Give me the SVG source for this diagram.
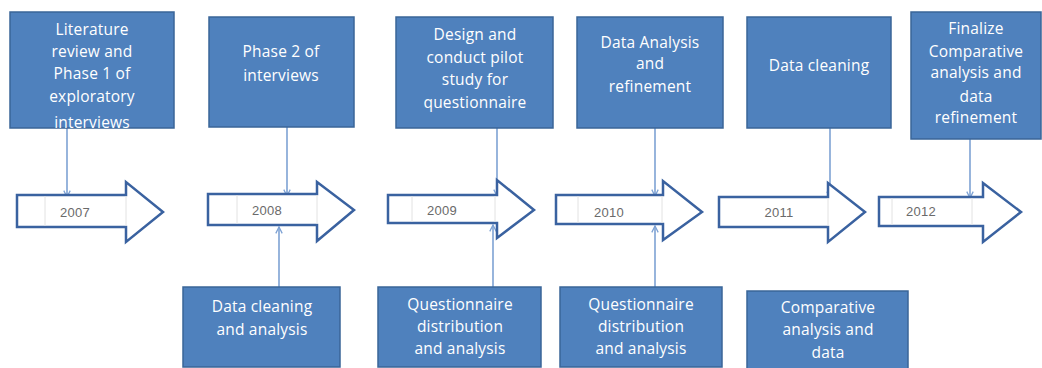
<svg xmlns="http://www.w3.org/2000/svg" width="1042" height="368" viewBox="0 0 1042 368">
<defs>
<style>
.box{fill:#4f81bd;stroke:#3a6598;stroke-width:1.5}
.lbl{font-family:"Open Sans","Liberation Sans",sans-serif;font-size:15.5px;fill:#ffffff;text-anchor:middle;letter-spacing:0.2px}
.arr{fill:#ffffff;stroke:#3a62a0;stroke-width:2.5;stroke-linejoin:miter}
.cell{stroke:#e2e2e2;stroke-width:1}
.yr{font-family:"Liberation Sans",sans-serif;font-size:13px;fill:#6a6a6a;text-anchor:middle;letter-spacing:0.3px}
.con{stroke:#7ea2d4;stroke-width:1.6;fill:none;marker-end:url(#ah)}
</style>
<marker id="ah" viewBox="0 0 10 10" refX="9" refY="5" markerWidth="8" markerHeight="8" markerUnits="userSpaceOnUse" orient="auto">
<path d="M1,1 L9,5 L1,9" fill="none" stroke="#7ea2d4" stroke-width="1.6"/>
</marker>
<clipPath id="c1"><rect x="10" y="12" width="164" height="116"/></clipPath>
<clipPath id="c10"><rect x="747" y="291" width="161" height="77"/></clipPath>
</defs>

<g id="connectors">
<line class="con" x1="67" y1="128" x2="67" y2="197"/>
<line class="con" x1="287" y1="127" x2="287" y2="196"/>
<line class="con" x1="497" y1="128" x2="497" y2="196"/>
<line class="con" x1="655" y1="128" x2="655" y2="196"/>
<line class="con" x1="830" y1="128" x2="830" y2="198"/>
<line class="con" x1="970" y1="139" x2="970" y2="198"/>
<line class="con" x1="279" y1="287" x2="279" y2="227"/>
<line class="con" x1="493" y1="287" x2="493" y2="225"/>
<line class="con" x1="655" y1="287" x2="655" y2="226"/>
</g>

<g id="y2007">
<path class="arr" d="M17,195 H126 V182 L163,212 L126,242 V227 H17 Z"/>
<line class="cell" x1="45" y1="196" x2="45" y2="226"/>
<line class="cell" x1="126" y1="196" x2="126" y2="226"/>
<text class="yr" x="75" y="217">2007</text>
</g>
<g id="y2008">
<path class="arr" d="M208,194 H317 V182 L354,210 L317,241 V225 H208 Z"/>
<line class="cell" x1="237" y1="195" x2="237" y2="224"/>
<line class="cell" x1="317" y1="195" x2="317" y2="224"/>
<text class="yr" x="267" y="215">2008</text>
</g>
<g id="y2009">
<path class="arr" d="M388,195 H497 V180 L534,210 L497,238 V223 H388 Z"/>
<line class="cell" x1="412" y1="196" x2="412" y2="222"/>
<line class="cell" x1="495" y1="196" x2="495" y2="222"/>
<text class="yr" x="442" y="215">2009</text>
</g>
<g id="y2010">
<path class="arr" d="M556,195 H663 V181 L702,212 L663,240 V224 H556 Z"/>
<line class="cell" x1="578" y1="196" x2="578" y2="223"/>
<line class="cell" x1="662" y1="196" x2="662" y2="223"/>
<text class="yr" x="609" y="217">2010</text>
</g>
<g id="y2011">
<path class="arr" d="M719,197 H828 V183 L865,212 L828,242 V227 H719 Z"/>
<line class="cell" x1="828" y1="198" x2="828" y2="226"/>
<text class="yr" x="779" y="217">2011</text>
</g>
<g id="y2012">
<path class="arr" d="M879,197 H983 V183 L1021,212 L983,242 V226 H879 Z"/>
<line class="cell" x1="892" y1="198" x2="892" y2="225"/>
<line class="cell" x1="972" y1="198" x2="972" y2="225"/>
<text class="yr" x="921" y="216">2012</text>
</g>

<g id="t1">
<rect class="box" x="10" y="12" width="164" height="116"/>
<g clip-path="url(#c1)">
<text class="lbl" x="92" y="35">Literature</text>
<text class="lbl" x="92" y="57">review and</text>
<text class="lbl" x="92" y="79">Phase 1 of</text>
<text class="lbl" x="92" y="102">exploratory</text>
<text class="lbl" x="92" y="128">interviews</text>
</g>
</g>
<g id="t2">
<rect class="box" x="209" y="17" width="145" height="110"/>
<text class="lbl" x="281" y="57">Phase 2 of</text>
<text class="lbl" x="281" y="81">interviews</text>
</g>
<g id="t3">
<rect class="box" x="396" y="17" width="157" height="111"/>
<text class="lbl" x="475" y="40">Design and</text>
<text class="lbl" x="475" y="63">conduct pilot</text>
<text class="lbl" x="475" y="85">study for</text>
<text class="lbl" x="475" y="108">questionnaire</text>
</g>
<g id="t4">
<rect class="box" x="577" y="17" width="146" height="111"/>
<text class="lbl" x="650" y="48">Data Analysis</text>
<text class="lbl" x="650" y="69">and</text>
<text class="lbl" x="650" y="92">refinement</text>
</g>
<g id="t5">
<rect class="box" x="747" y="17" width="144" height="111"/>
<text class="lbl" x="819" y="71">Data cleaning</text>
</g>
<g id="t6">
<rect class="box" x="911" y="12" width="130" height="127"/>
<text class="lbl" x="976" y="34">Finalize</text>
<text class="lbl" x="976" y="57">Comparative</text>
<text class="lbl" x="976" y="78">analysis and</text>
<text class="lbl" x="976" y="102">data</text>
<text class="lbl" x="976" y="123">refinement</text>
</g>

<g id="b1">
<rect class="box" x="183" y="287" width="157" height="80"/>
<text class="lbl" x="262" y="312">Data cleaning</text>
<text class="lbl" x="262" y="335">and analysis</text>
</g>
<g id="b2">
<rect class="box" x="378" y="287" width="163" height="80"/>
<text class="lbl" x="460" y="310">Questionnaire</text>
<text class="lbl" x="460" y="332">distribution</text>
<text class="lbl" x="460" y="354">and analysis</text>
</g>
<g id="b3">
<rect class="box" x="560" y="287" width="162" height="80"/>
<text class="lbl" x="641" y="310">Questionnaire</text>
<text class="lbl" x="641" y="332">distribution</text>
<text class="lbl" x="641" y="354">and analysis</text>
</g>
<g id="b4">
<rect class="box" x="747" y="291" width="161" height="80"/>
<g clip-path="url(#c10)">
<text class="lbl" x="828" y="313">Comparative</text>
<text class="lbl" x="828" y="335">analysis and</text>
<text class="lbl" x="828" y="358">data</text>
</g>
</g>
</svg>
